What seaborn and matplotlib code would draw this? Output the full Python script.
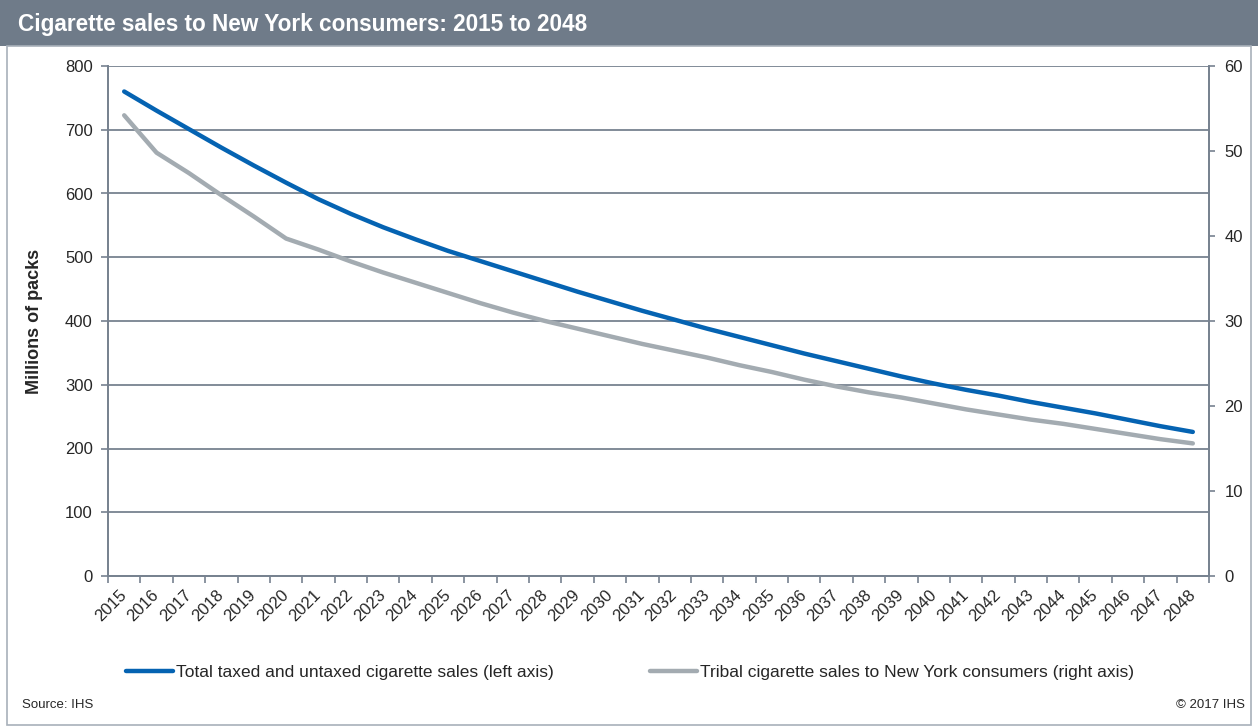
import seaborn as sns
import pandas as pd
import matplotlib.pyplot as plt
import matplotlib.patches as mpatches
from matplotlib.ticker import MultipleLocator, FixedLocator

sns.set_theme(style='white')
plt.rcParams['font.family'] = ['Liberation Sans', 'DejaVu Sans']

years = list(range(2015, 2049))
total_sales = [760, 730, 701, 672, 644, 617, 591, 568, 547, 528,
               510, 494, 478, 462, 446, 431, 416, 402, 388, 375,
               362, 349, 337, 325, 313, 302, 292, 283, 273, 264,
               255, 245, 235, 226]
tribal_sales = [54.2, 49.8, 47.4, 44.8, 42.3, 39.7, 38.4, 37.0, 35.7, 34.5,
                33.3, 32.1, 31.0, 30.0, 29.1, 28.2, 27.3, 26.5, 25.7, 24.8,
                24.0, 23.1, 22.3, 21.6, 21.0, 20.3, 19.6, 19.0, 18.4, 17.9,
                17.3, 16.7, 16.1, 15.6]
label_total = 'Total taxed and untaxed cigarette sales (left axis)'
label_tribal = 'Tribal cigarette sales to New York consumers (right axis)'

df = pd.DataFrame({'year': years, 'total': total_sales, 'tribal': tribal_sales})

blue = '#0563b2'
grey = '#a3abb1'
axis_col = '#778290'

fig = plt.figure(figsize=(12.58, 7.27), dpi=100)

# header bar and frame
fig.patches.append(mpatches.Rectangle((0, 1 - 46 / 727), 1, 46 / 727, transform=fig.transFigure,
                                      facecolor='#6f7b89', edgecolor='none', zorder=0))
fig.patches.append(mpatches.Rectangle((7 / 1258, 2 / 727), 1244 / 1258, (727 - 48) / 727,
                                      transform=fig.transFigure, facecolor='none',
                                      edgecolor='#a8b0ba', lw=1.2, zorder=0))
fig.text(18 / 1258, 1 - 24 / 727, 'Cigarette sales to New York consumers: 2015 to 2048',
         color='white', fontsize=16.3, fontweight='bold', va='center', ha='left')

ax = fig.add_axes([108 / 1258, 1 - 576 / 727, 1101 / 1258, 510 / 727])
ax2 = ax.twinx()

sns.lineplot(data=df, x='year', y='total', ax=ax, color=blue, lw=3.2,
             solid_capstyle='round', label=label_total, legend=False)
sns.lineplot(data=df, x='year', y='tribal', ax=ax2, color=grey, lw=3.2,
             solid_capstyle='round', label=label_tribal, legend=False)

ax.set_xlim(years[0] - 0.5, years[-1] + 0.5)
ax.set_ylim(0, 800)
ax2.set_ylim(0, 60)
ax.yaxis.set_major_locator(MultipleLocator(100))
ax2.yaxis.set_major_locator(MultipleLocator(10))

ax.set_xticks(years)
ax.set_xticklabels([str(y) for y in years], rotation=45, ha='right', va='center',
                   rotation_mode='anchor', fontsize=12)
ax.xaxis.set_minor_locator(FixedLocator([y - 0.5 for y in years] + [years[-1] + 0.5]))
ax.tick_params(axis='x', which='major', length=0, pad=12)
ax.tick_params(axis='x', which='minor', length=5, width=1.2, color=axis_col, direction='out')
ax.tick_params(axis='y', length=5, width=1.2, color=axis_col, direction='out', labelsize=12, pad=6)
ax2.tick_params(axis='y', length=4, width=1.2, color=axis_col, direction='out', labelsize=12, pad=7)
ax.xaxis.set_tick_params(bottom=True, which='both')

ax.grid(axis='y', color=axis_col, lw=1.3)
ax.set_axisbelow(True)
ax.set_xlabel('')
ax.set_ylabel('Millions of packs', fontsize=13, fontweight='bold', labelpad=16)
ax2.set_ylabel('')

for a in (ax, ax2):
    a.spines['top'].set_visible(False)
    for s in ('left', 'right', 'bottom'):
        a.spines[s].set_color(axis_col)
        a.spines[s].set_linewidth(1.3)

h1, l1 = ax.get_legend_handles_labels()
h2, l2 = ax2.get_legend_handles_labels()
fig.legend(h1 + h2, l1 + l2, loc='center', bbox_to_anchor=(630 / 1258, 1 - 672 / 727), ncol=2,
           frameon=False, fontsize=12.5, handlelength=2.7, handletextpad=0.15, columnspacing=5.6)

fig.text(22 / 1258, 1 - 705 / 727, 'Source: IHS', fontsize=9.5, va='center', ha='left')
fig.text(1245 / 1258, 1 - 705 / 727, '\u00a9 2017 IHS', fontsize=9.5, va='center', ha='right')

fig.savefig('out.png', dpi=100)
